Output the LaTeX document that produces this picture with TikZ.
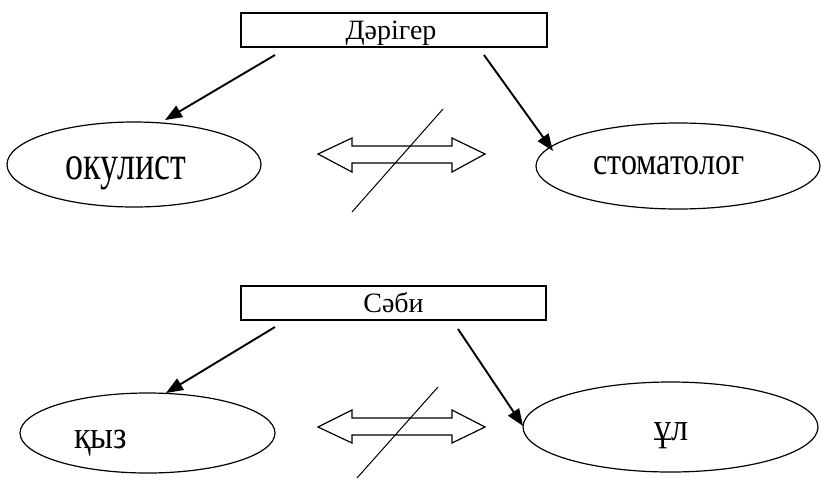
\documentclass[tikz,border=0pt]{standalone}
\usepackage{fontspec}
\setmainfont{Liberation Serif}
\usetikzlibrary{arrows.meta,shapes.geometric}

\tikzset{
  titlebox/.style={draw, line width=1.8pt, inner sep=0pt},
  oval/.style={draw, ellipse, line width=1.2pt, inner sep=0pt},
  pointer/.style={line width=1.9pt, -{Triangle[length=17pt,width=13pt]}},
  twoway/.style={draw, line width=1.2pt, line join=miter},
  strike/.style={line width=1pt},
  lbl/.style={inner sep=0pt, anchor=base}
}

\begin{document}
\begin{tikzpicture}[x=1pt, y=-1pt]
\useasboundingbox (0,0) rectangle (821,480);

% ---------- upper group ----------
\node[titlebox, minimum width=306pt, minimum height=34pt] (doc) at (394,30) {};
\node[lbl] (doctxt) at (391,39) {\fontsize{28}{28}\selectfont Дәрігер};

\node[oval, minimum width=254pt, minimum height=85pt] (ocul) at (134,164.5) {};
\node[lbl] (ocultxt) at (126,179) {\scalebox{1}[1.35]{\fontsize{36}{36}\selectfont окулист}};

\node[oval, minimum width=284pt, minimum height=86pt] (stom) at (678,166) {};
\node[lbl] (stomtxt) at (669,174) {\scalebox{1}[1.2]{\fontsize{32}{32}\selectfont стоматолог}};

\coordinate (docL) at (275,55);
\coordinate (docR) at (484,55);
\coordinate (oculT) at (165,120);
\coordinate (stomT) at (553,151);
\draw[pointer] (docL) -- (oculT);
\draw[pointer] (docR) -- (stomT);

% crossed double arrow (upper)
\draw[twoway] (318,154) -- (352,138) -- (352,146) -- (452,146) -- (452,138)
  -- (485,154) -- (452,172) -- (452,163) -- (352,163) -- (352,172) -- cycle;
\coordinate (slashAlo) at (352,212);
\coordinate (slashAhi) at (443,109);
\draw[strike] (slashAlo) -- (slashAhi);

% ---------- lower group ----------
\node[titlebox, minimum width=305pt, minimum height=34pt] (baby) at (393.5,303) {};
\node[lbl] (babytxt) at (393.5,312) {\fontsize{28}{28}\selectfont Сәби};

\node[oval, minimum width=255pt, minimum height=80pt] (girl) at (147.5,433) {};
\node[lbl] (girltxt) at (100.5,448) {\scalebox{1}[1.15]{\fontsize{34}{34}\selectfont қыз}};

\node[oval, minimum width=295pt, minimum height=90pt] (boy) at (670.5,427) {};
\node[lbl] (boytxt) at (671.5,440) {\scalebox{1}[1.15]{\fontsize{34}{34}\selectfont ұл}};

\coordinate (babyL) at (275,327);
\coordinate (babyR) at (458,329);
\coordinate (girlT) at (166,393);
\coordinate (boyT) at (523,426);
\draw[pointer] (babyL) -- (girlT);
\draw[pointer] (babyR) -- (boyT);

% crossed double arrow (lower)
\draw[twoway] (318,427) -- (352,410) -- (352,418) -- (452,418) -- (452,410)
  -- (485,427) -- (452,443) -- (452,435) -- (352,435) -- (352,443) -- cycle;
\coordinate (slashBlo) at (357,478);
\coordinate (slashBhi) at (438,387);
\draw[strike] (slashBlo) -- (slashBhi);
\end{tikzpicture}
\end{document}
